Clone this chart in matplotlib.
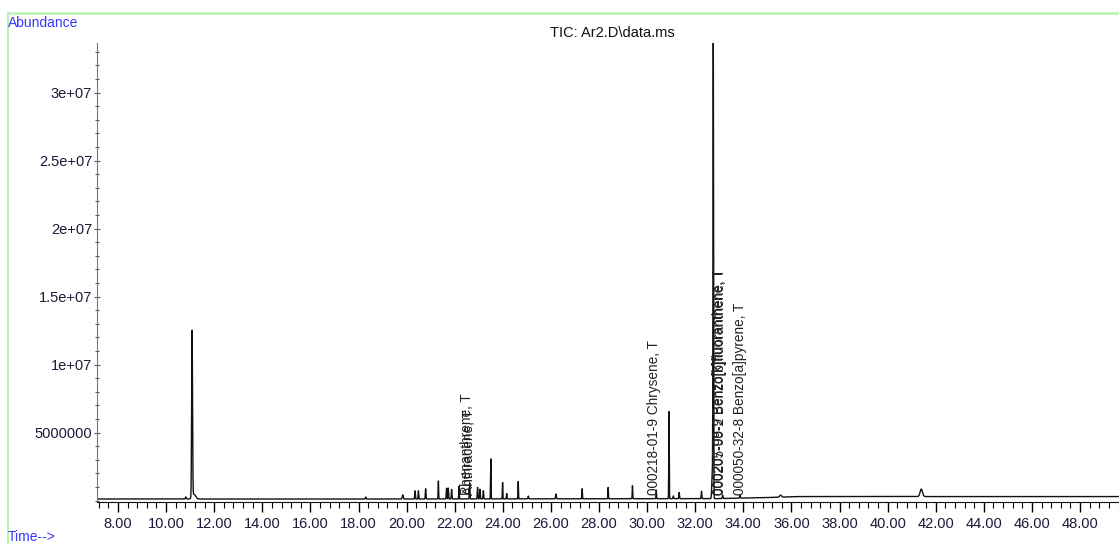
import numpy as np
import matplotlib
matplotlib.use("Agg")
import matplotlib.pyplot as plt
from matplotlib.ticker import MultipleLocator, FixedLocator, FixedFormatter
from matplotlib.lines import Line2D

plt.rcParams['font.family'] = ['Liberation Sans', 'DejaVu Sans']

# peaks: retention time (min), height above baseline, width (min)
peak_times = [10.82, 11.08, 11.16, 18.30, 19.84, 20.35, 20.49, 20.79, 21.32, 21.66,
              21.73, 21.87, 22.18, 22.62, 22.95, 23.05, 23.19, 23.50, 23.99, 24.16,
              24.64, 25.06, 26.21, 27.30, 28.38, 29.39, 30.38, 30.91, 31.09, 31.33,
              32.26, 32.71, 32.75, 33.14, 33.86, 35.55, 41.40]
peak_heights = [0.15e6, 12.3e6, 0.35e6, 0.15e6, 0.3e6, 0.6e6, 0.6e6, 0.75e6, 1.35e6, 0.8e6,
                0.8e6, 0.7e6, 0.95e6, 1.2e6, 0.85e6, 0.7e6, 0.6e6, 3.0e6, 1.2e6, 0.4e6,
                1.3e6, 0.2e6, 0.35e6, 0.75e6, 0.85e6, 0.95e6, 0.65e6, 6.4e6, 0.2e6, 0.45e6,
                0.55e6, 2.0e6, 33.4e6, 0.25e6, 0.2e6, 0.15e6, 0.55e6]
peak_widths = [0.02, 0.018, 0.07, 0.015, 0.02, 0.012, 0.012, 0.012, 0.01, 0.012,
               0.012, 0.012, 0.01, 0.012, 0.012, 0.012, 0.012, 0.01, 0.01, 0.012,
               0.01, 0.015, 0.015, 0.01, 0.01, 0.01, 0.01, 0.01, 0.012, 0.012,
               0.012, 0.02, 0.012, 0.015, 0.015, 0.04, 0.05]

# baseline level along the run
base_times = [7.13, 20.0, 33.0, 35.5, 36.2, 49.62]
base_levels = [0.12e6, 0.12e6, 0.15e6, 0.25e6, 0.3e6, 0.3e6]

# compound labels (overlapping, as printed by the instrument software)
label_times = [22.52, 22.60, 30.29, 32.99, 33.05, 33.86]
label_texts = ["Phenanthrene, T", "Anthracene, T", "000218-01-9 Chrysene, T",
               "000207-08-9 Benzo[k]fluoranthene, T", "000205-99-2 Benzo[b]fluoranthene, T",
               "000050-32-8 Benzo[a]pyrene, T"]

ytick_vals = [5e6, 1e7, 1.5e7, 2e7, 2.5e7, 3e7]
ytick_labels = ["5000000", "1e+07", "1.5e+07", "2e+07", "2.5e+07", "3e+07"]

t = np.arange(7.13, 49.62, 0.004)
signal = np.interp(t, base_times, base_levels)
for pt, ph, pw in zip(peak_times, peak_heights, peak_widths):
    signal = signal + ph * np.exp(-0.5 * ((t - pt) / pw) ** 2)

fig = plt.figure(figsize=(11.19, 5.44), dpi=100)
W, H = 1119, 544
ax = fig.add_axes([97 / W, 1 - 502 / H, 1022 / W, 459 / H])
ax.plot(t, signal, color='#111111', lw=1.0)

ax.set_xlim(7.127, 49.62)
ax.set_ylim(-0.1e6, 33.65e6)

ax.xaxis.set_major_locator(MultipleLocator(2))
ax.xaxis.set_minor_locator(MultipleLocator(0.4))
ax.xaxis.set_major_formatter(plt.FuncFormatter(lambda v, p: f"{v:.2f}"))
ax.yaxis.set_major_locator(FixedLocator(ytick_vals))
ax.yaxis.set_major_formatter(FixedFormatter(ytick_labels))
ax.yaxis.set_minor_locator(MultipleLocator(1e6))

ax.tick_params(axis='x', which='major', direction='out', length=7, width=1,
               labelsize=10.5, labelcolor='#1a1a3a', pad=4)
ax.tick_params(axis='x', which='minor', direction='out', length=4, width=0.8)
ax.tick_params(axis='y', which='major', direction='inout', length=5, width=0.8,
               labelsize=10.5, labelcolor='#1a1a3a', pad=1, color='#555555')
ax.tick_params(axis='y', which='minor', direction='inout', length=3, width=0.8, color='#555555')

for s in ['top', 'right']:
    ax.spines[s].set_visible(False)
ax.spines['left'].set_color('#777777')
ax.spines['bottom'].set_color('#111111')

for lt, txt in zip(label_times, label_texts):
    ax.text(lt, 0.45e6, txt, rotation=90, ha='center', va='bottom',
            fontsize=9.8, color='#222222')

fig.text(612 / W, 1 - 33 / H, "TIC: Ar2.D\\data.ms", ha='center', va='center',
         fontsize=10.5, color='#111111')
fig.text(8 / W, 1 - 23 / H, "Abundance", ha='left', va='center', fontsize=10, color='#3636ff')
fig.text(8 / W, 1 - 537 / H, "Time-->", ha='left', va='center', fontsize=10, color='#3636ff')

# light green frame
fig.add_artist(Line2D([8 / W, 1], [1 - 13 / H, 1 - 13 / H], color='#b9f3b9', lw=2,
                      transform=fig.transFigure))
fig.add_artist(Line2D([8 / W, 8 / W], [0, 1 - 13 / H], color='#b9f3b9', lw=1.5,
                      transform=fig.transFigure))

fig.savefig("out.png", dpi=100)
